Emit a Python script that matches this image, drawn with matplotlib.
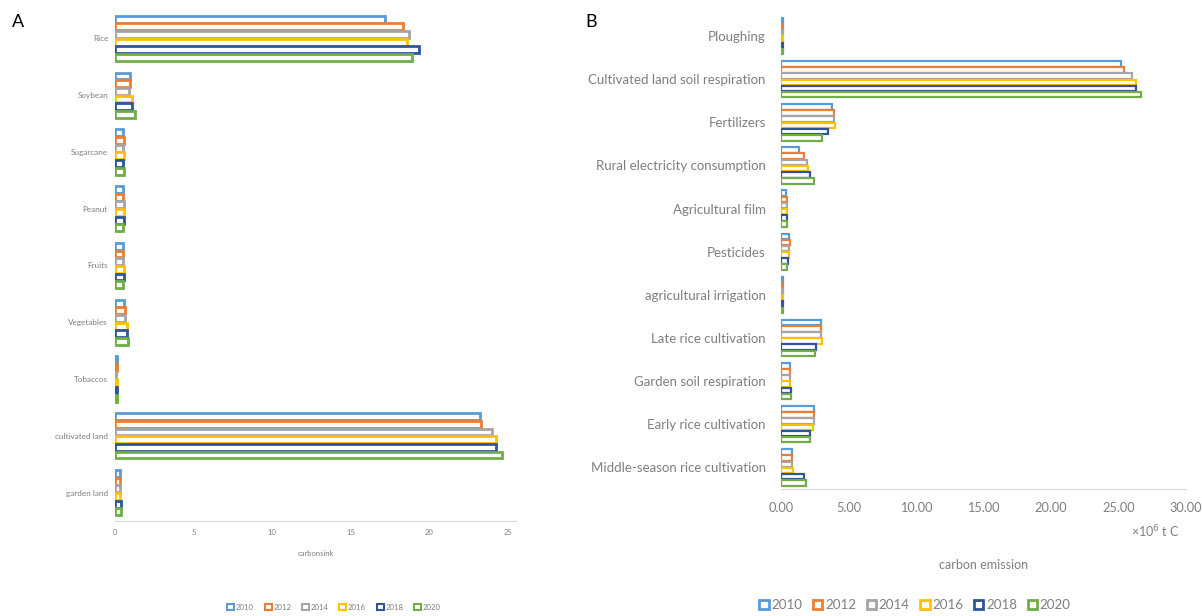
import numpy as np
import matplotlib
matplotlib.use("Agg")
import matplotlib.pyplot as plt
from matplotlib.patches import Patch

plt.rcParams['font.family'] = ['Lato', 'DejaVu Sans']

years = ["2010", "2012", "2014", "2016", "2018", "2020"]
colors = ["#5B9BD5", "#ED7D31", "#A5A5A5", "#FFC000", "#2F5597", "#70AD47"]

# panel A: carbon sink
sink_cats = ["Rice", "Soybean", "Sugarcane", "Peanut", "Fruits", "Vegetables",
             "Tobaccos", "cultivated land", "garden land"]
sink_2010 = [17.2, 0.94, 0.48, 0.50, 0.50, 0.59, 0.10, 23.2, 0.33]
sink_2012 = [18.3, 0.94, 0.55, 0.52, 0.52, 0.63, 0.10, 23.3, 0.33]
sink_2014 = [18.7, 0.90, 0.50, 0.55, 0.50, 0.63, 0.08, 24.0, 0.33]
sink_2016 = [18.6, 1.05, 0.55, 0.57, 0.55, 0.76, 0.10, 24.2, 0.33]
sink_2018 = [19.3, 1.09, 0.52, 0.58, 0.55, 0.76, 0.10, 24.2, 0.35]
sink_2020 = [18.9, 1.27, 0.57, 0.50, 0.52, 0.83, 0.10, 24.6, 0.35]
sink = [sink_2010, sink_2012, sink_2014, sink_2016, sink_2018, sink_2020]

# panel B: carbon emission (x10^6 t C)
emis_cats = ["Ploughing", "Cultivated land soil respiration", "Fertilizers",
             "Rural electricity consumption", "Agricultural film", "Pesticides",
             "agricultural irrigation", "Late rice cultivation",
             "Garden soil respiration", "Early rice cultivation",
             "Middle-season rice cultivation"]
emis_2010 = [0.15, 25.2, 3.77, 1.33, 0.38, 0.61, 0.12, 2.93, 0.67, 2.41, 0.81]
emis_2012 = [0.15, 25.4, 3.94, 1.68, 0.43, 0.67, 0.12, 2.99, 0.67, 2.41, 0.81]
emis_2014 = [0.15, 26.0, 3.94, 1.91, 0.43, 0.58, 0.12, 2.96, 0.67, 2.41, 0.81]
emis_2016 = [0.15, 26.3, 3.97, 2.03, 0.43, 0.58, 0.12, 3.04, 0.67, 2.35, 0.90]
emis_2018 = [0.15, 26.3, 3.48, 2.14, 0.43, 0.52, 0.12, 2.58, 0.75, 2.12, 1.74]
emis_2020 = [0.15, 26.7, 3.07, 2.46, 0.43, 0.41, 0.12, 2.52, 0.75, 2.14, 1.83]
emis = [emis_2010, emis_2012, emis_2014, emis_2016, emis_2018, emis_2020]

W, H = 1202, 616
fig = plt.figure(figsize=(W / 100, H / 100), dpi=100)
gray = "#7f7f7f"


def draw(ax, cats, data, h, lw, fs):
    y = np.arange(len(cats))
    for j, vals in enumerate(data):
        ax.barh(y + (j - 2.5) * h, vals, height=h * 0.9, facecolor="white",
                edgecolor=colors[j], linewidth=lw)
    ax.set_yticks(y)
    ax.set_yticklabels(cats, fontsize=fs, color=gray)
    ax.set_ylim(len(cats) - 0.5, -0.5)
    for s in ["top", "right", "left"]:
        ax.spines[s].set_visible(False)
    ax.spines["bottom"].set_color("#d9d9d9")
    ax.tick_params(length=0)


# A
axA = fig.add_axes([115 / W, 1 - 521 / H, (516 - 115) / W, (521 - 10) / H])
draw(axA, sink_cats, sink, 0.135, 2.0, 5.9)
axA.set_xlim(0, 25.5)
axA.set_xticks([0, 5, 10, 15, 20, 25])
axA.tick_params(axis="x", labelsize=5.5, labelcolor=gray, pad=6)
axA.tick_params(axis="y", pad=5)
axA.set_xlabel("carbonsink", fontsize=5.5, color=gray, labelpad=10)
handlesA = [Patch(facecolor="white", edgecolor=c, linewidth=1.5, label=yr)
            for c, yr in zip(colors, years)]
fig.legend(handles=handlesA, loc="center", bbox_to_anchor=(334 / W, 1 - 607 / H),
           ncol=6, frameon=False, fontsize=5.6, labelcolor=gray,
           handlelength=0.9, handleheight=0.9, handletextpad=0.2, columnspacing=1.4)
fig.text(12 / W, 1 - 22 / H, "A", fontsize=13, va="center", ha="left")

# B
axB = fig.add_axes([781 / W, 1 - 489 / H, (1186 - 781) / W, (489 - 14.5) / H])
draw(axB, emis_cats, emis, 0.143, 1.6, 9.5)
axB.set_xlim(0, 30)
axB.set_xticks(np.arange(0, 31, 5))
axB.set_xticklabels([f"{v:.2f}" for v in np.arange(0, 31, 5)])
axB.tick_params(axis="x", labelsize=9.2, labelcolor=gray, pad=9)
axB.tick_params(axis="y", pad=11)
axB.set_xlabel("carbon emission", fontsize=9, color=gray, labelpad=33)
fig.text(1155 / W, 1 - 532 / H, r"×10$^{6}$ t C", fontsize=9, color=gray,
         ha="center", va="center")
handlesB = [Patch(facecolor="white", edgecolor=c, linewidth=2.0, label=yr)
            for c, yr in zip(colors, years)]
fig.legend(handles=handlesB, loc="center", bbox_to_anchor=(915 / W, 1 - 605 / H),
           ncol=6, frameon=False, fontsize=9.6, labelcolor=gray,
           handlelength=0.7, handleheight=0.7, handletextpad=0.2, columnspacing=0.8)
fig.text(585 / W, 1 - 22 / H, "B", fontsize=13, va="center", ha="left")

fig.savefig("out.png", dpi=100)
